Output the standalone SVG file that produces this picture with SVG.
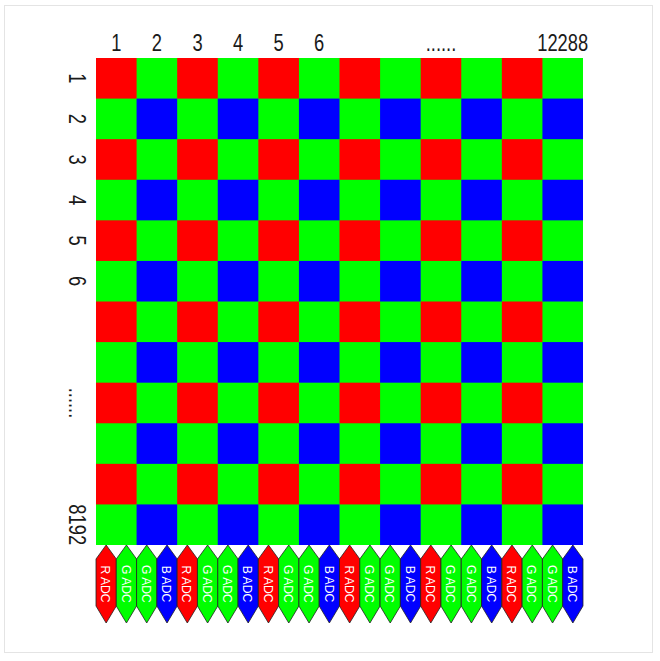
<svg xmlns="http://www.w3.org/2000/svg" xmlns:xlink="http://www.w3.org/1999/xlink" width="660" height="661" viewBox="0 0 660 661">
<style>
.r{fill:#ff0000}.g{fill:#00ff00}.b{fill:#0000ff}
.lbl{font-family:"Liberation Sans",Arial,sans-serif;font-size:23.5px;fill:#1a1a1a;text-anchor:middle}
.adc{font-family:"Liberation Sans",Arial,sans-serif;font-size:13.5px;fill:#ffffff;text-anchor:middle}
.hex{stroke:#222;stroke-width:0.8}
</style>
<defs>
<polygon id="hexshape" points="0,0 10.15,14 10.15,61 0,78 -10.15,61 -10.15,14"/>
</defs>
<rect x="0" y="0" width="660" height="661" fill="#ffffff"/>
<rect x="4.5" y="5.5" width="648" height="647" fill="none" stroke="#e4e4e4" stroke-width="1"/>
<g id="grid">
<rect class="g" x="96" y="58" width="487" height="487"/>
<g id="red-cells">
<rect class="r" x="96" y="58" width="40.6" height="40.6"/><rect class="r" x="177.17" y="58" width="40.6" height="40.6"/><rect class="r" x="258.33" y="58" width="40.6" height="40.6"/><rect class="r" x="339.5" y="58" width="40.6" height="40.6"/><rect class="r" x="420.67" y="58" width="40.6" height="40.6"/><rect class="r" x="501.83" y="58" width="40.6" height="40.6"/>
<rect class="r" x="96" y="139.17" width="40.6" height="40.6"/><rect class="r" x="177.17" y="139.17" width="40.6" height="40.6"/><rect class="r" x="258.33" y="139.17" width="40.6" height="40.6"/><rect class="r" x="339.5" y="139.17" width="40.6" height="40.6"/><rect class="r" x="420.67" y="139.17" width="40.6" height="40.6"/><rect class="r" x="501.83" y="139.17" width="40.6" height="40.6"/>
<rect class="r" x="96" y="220.33" width="40.6" height="40.6"/><rect class="r" x="177.17" y="220.33" width="40.6" height="40.6"/><rect class="r" x="258.33" y="220.33" width="40.6" height="40.6"/><rect class="r" x="339.5" y="220.33" width="40.6" height="40.6"/><rect class="r" x="420.67" y="220.33" width="40.6" height="40.6"/><rect class="r" x="501.83" y="220.33" width="40.6" height="40.6"/>
<rect class="r" x="96" y="301.5" width="40.6" height="40.6"/><rect class="r" x="177.17" y="301.5" width="40.6" height="40.6"/><rect class="r" x="258.33" y="301.5" width="40.6" height="40.6"/><rect class="r" x="339.5" y="301.5" width="40.6" height="40.6"/><rect class="r" x="420.67" y="301.5" width="40.6" height="40.6"/><rect class="r" x="501.83" y="301.5" width="40.6" height="40.6"/>
<rect class="r" x="96" y="382.67" width="40.6" height="40.6"/><rect class="r" x="177.17" y="382.67" width="40.6" height="40.6"/><rect class="r" x="258.33" y="382.67" width="40.6" height="40.6"/><rect class="r" x="339.5" y="382.67" width="40.6" height="40.6"/><rect class="r" x="420.67" y="382.67" width="40.6" height="40.6"/><rect class="r" x="501.83" y="382.67" width="40.6" height="40.6"/>
<rect class="r" x="96" y="463.83" width="40.6" height="40.6"/><rect class="r" x="177.17" y="463.83" width="40.6" height="40.6"/><rect class="r" x="258.33" y="463.83" width="40.6" height="40.6"/><rect class="r" x="339.5" y="463.83" width="40.6" height="40.6"/><rect class="r" x="420.67" y="463.83" width="40.6" height="40.6"/><rect class="r" x="501.83" y="463.83" width="40.6" height="40.6"/>
</g>
<g id="blue-cells">
<rect class="b" x="136.58" y="98.58" width="40.6" height="40.6"/><rect class="b" x="217.75" y="98.58" width="40.6" height="40.6"/><rect class="b" x="298.92" y="98.58" width="40.6" height="40.6"/><rect class="b" x="380.08" y="98.58" width="40.6" height="40.6"/><rect class="b" x="461.25" y="98.58" width="40.6" height="40.6"/><rect class="b" x="542.42" y="98.58" width="40.58" height="40.6"/>
<rect class="b" x="136.58" y="179.75" width="40.6" height="40.6"/><rect class="b" x="217.75" y="179.75" width="40.6" height="40.6"/><rect class="b" x="298.92" y="179.75" width="40.6" height="40.6"/><rect class="b" x="380.08" y="179.75" width="40.6" height="40.6"/><rect class="b" x="461.25" y="179.75" width="40.6" height="40.6"/><rect class="b" x="542.42" y="179.75" width="40.58" height="40.6"/>
<rect class="b" x="136.58" y="260.92" width="40.6" height="40.6"/><rect class="b" x="217.75" y="260.92" width="40.6" height="40.6"/><rect class="b" x="298.92" y="260.92" width="40.6" height="40.6"/><rect class="b" x="380.08" y="260.92" width="40.6" height="40.6"/><rect class="b" x="461.25" y="260.92" width="40.6" height="40.6"/><rect class="b" x="542.42" y="260.92" width="40.58" height="40.6"/>
<rect class="b" x="136.58" y="342.08" width="40.6" height="40.6"/><rect class="b" x="217.75" y="342.08" width="40.6" height="40.6"/><rect class="b" x="298.92" y="342.08" width="40.6" height="40.6"/><rect class="b" x="380.08" y="342.08" width="40.6" height="40.6"/><rect class="b" x="461.25" y="342.08" width="40.6" height="40.6"/><rect class="b" x="542.42" y="342.08" width="40.58" height="40.6"/>
<rect class="b" x="136.58" y="423.25" width="40.6" height="40.6"/><rect class="b" x="217.75" y="423.25" width="40.6" height="40.6"/><rect class="b" x="298.92" y="423.25" width="40.6" height="40.6"/><rect class="b" x="380.08" y="423.25" width="40.6" height="40.6"/><rect class="b" x="461.25" y="423.25" width="40.6" height="40.6"/><rect class="b" x="542.42" y="423.25" width="40.58" height="40.6"/>
<rect class="b" x="136.58" y="504.42" width="40.6" height="40.58"/><rect class="b" x="217.75" y="504.42" width="40.6" height="40.58"/><rect class="b" x="298.92" y="504.42" width="40.6" height="40.58"/><rect class="b" x="380.08" y="504.42" width="40.6" height="40.58"/><rect class="b" x="461.25" y="504.42" width="40.6" height="40.58"/><rect class="b" x="542.42" y="504.42" width="40.58" height="40.58"/>
</g>
</g>
<g id="column-labels">
<text class="lbl" transform="translate(116.3,51) scale(0.78,1)">1</text>
<text class="lbl" transform="translate(156.9,51) scale(0.78,1)">2</text>
<text class="lbl" transform="translate(197.5,51) scale(0.78,1)">3</text>
<text class="lbl" transform="translate(238,51) scale(0.78,1)">4</text>
<text class="lbl" transform="translate(278.6,51) scale(0.78,1)">5</text>
<text class="lbl" transform="translate(319.2,51) scale(0.78,1)">6</text>
<text class="lbl" transform="translate(441,51) scale(0.78,1)">......</text>
<text class="lbl" transform="translate(562.7,51) scale(0.78,1)">12288</text>
</g>
<g id="row-labels">
<text class="lbl" transform="translate(69,78.3) rotate(90) scale(0.78,1)">1</text>
<text class="lbl" transform="translate(69,118.9) rotate(90) scale(0.78,1)">2</text>
<text class="lbl" transform="translate(69,159.5) rotate(90) scale(0.78,1)">3</text>
<text class="lbl" transform="translate(69,200) rotate(90) scale(0.78,1)">4</text>
<text class="lbl" transform="translate(69,240.6) rotate(90) scale(0.78,1)">5</text>
<text class="lbl" transform="translate(69,281.2) rotate(90) scale(0.78,1)">6</text>
<text class="lbl" transform="translate(69,403) rotate(90) scale(0.78,1)">......</text>
<text class="lbl" transform="translate(69,524.7) rotate(90) scale(0.78,1)">8192</text>
</g>
<g id="adcs">
<g id="adc1"><use xlink:href="#hexshape" class="hex r" x="106.15" y="545"/><text class="adc" transform="translate(106.15,584) rotate(90) scale(0.9,1)" y="4.8">R ADC</text></g>
<g id="adc2"><use xlink:href="#hexshape" class="hex g" x="126.44" y="545"/><text class="adc" transform="translate(126.44,584) rotate(90) scale(0.9,1)" y="4.8">G ADC</text></g>
<g id="adc3"><use xlink:href="#hexshape" class="hex g" x="146.73" y="545"/><text class="adc" transform="translate(146.73,584) rotate(90) scale(0.9,1)" y="4.8">G ADC</text></g>
<g id="adc4"><use xlink:href="#hexshape" class="hex b" x="167.02" y="545"/><text class="adc" transform="translate(167.02,584) rotate(90) scale(0.9,1)" y="4.8">B ADC</text></g>
<g id="adc5"><use xlink:href="#hexshape" class="hex r" x="187.31" y="545"/><text class="adc" transform="translate(187.31,584) rotate(90) scale(0.9,1)" y="4.8">R ADC</text></g>
<g id="adc6"><use xlink:href="#hexshape" class="hex g" x="207.6" y="545"/><text class="adc" transform="translate(207.6,584) rotate(90) scale(0.9,1)" y="4.8">G ADC</text></g>
<g id="adc7"><use xlink:href="#hexshape" class="hex g" x="227.9" y="545"/><text class="adc" transform="translate(227.9,584) rotate(90) scale(0.9,1)" y="4.8">G ADC</text></g>
<g id="adc8"><use xlink:href="#hexshape" class="hex b" x="248.19" y="545"/><text class="adc" transform="translate(248.19,584) rotate(90) scale(0.9,1)" y="4.8">B ADC</text></g>
<g id="adc9"><use xlink:href="#hexshape" class="hex r" x="268.48" y="545"/><text class="adc" transform="translate(268.48,584) rotate(90) scale(0.9,1)" y="4.8">R ADC</text></g>
<g id="adc10"><use xlink:href="#hexshape" class="hex g" x="288.77" y="545"/><text class="adc" transform="translate(288.77,584) rotate(90) scale(0.9,1)" y="4.8">G ADC</text></g>
<g id="adc11"><use xlink:href="#hexshape" class="hex g" x="309.06" y="545"/><text class="adc" transform="translate(309.06,584) rotate(90) scale(0.9,1)" y="4.8">G ADC</text></g>
<g id="adc12"><use xlink:href="#hexshape" class="hex b" x="329.35" y="545"/><text class="adc" transform="translate(329.35,584) rotate(90) scale(0.9,1)" y="4.8">B ADC</text></g>
<g id="adc13"><use xlink:href="#hexshape" class="hex r" x="349.65" y="545"/><text class="adc" transform="translate(349.65,584) rotate(90) scale(0.9,1)" y="4.8">R ADC</text></g>
<g id="adc14"><use xlink:href="#hexshape" class="hex g" x="369.94" y="545"/><text class="adc" transform="translate(369.94,584) rotate(90) scale(0.9,1)" y="4.8">G ADC</text></g>
<g id="adc15"><use xlink:href="#hexshape" class="hex g" x="390.23" y="545"/><text class="adc" transform="translate(390.23,584) rotate(90) scale(0.9,1)" y="4.8">G ADC</text></g>
<g id="adc16"><use xlink:href="#hexshape" class="hex b" x="410.52" y="545"/><text class="adc" transform="translate(410.52,584) rotate(90) scale(0.9,1)" y="4.8">B ADC</text></g>
<g id="adc17"><use xlink:href="#hexshape" class="hex r" x="430.81" y="545"/><text class="adc" transform="translate(430.81,584) rotate(90) scale(0.9,1)" y="4.8">R ADC</text></g>
<g id="adc18"><use xlink:href="#hexshape" class="hex g" x="451.1" y="545"/><text class="adc" transform="translate(451.1,584) rotate(90) scale(0.9,1)" y="4.8">G ADC</text></g>
<g id="adc19"><use xlink:href="#hexshape" class="hex g" x="471.4" y="545"/><text class="adc" transform="translate(471.4,584) rotate(90) scale(0.9,1)" y="4.8">G ADC</text></g>
<g id="adc20"><use xlink:href="#hexshape" class="hex b" x="491.69" y="545"/><text class="adc" transform="translate(491.69,584) rotate(90) scale(0.9,1)" y="4.8">B ADC</text></g>
<g id="adc21"><use xlink:href="#hexshape" class="hex r" x="511.98" y="545"/><text class="adc" transform="translate(511.98,584) rotate(90) scale(0.9,1)" y="4.8">R ADC</text></g>
<g id="adc22"><use xlink:href="#hexshape" class="hex g" x="532.27" y="545"/><text class="adc" transform="translate(532.27,584) rotate(90) scale(0.9,1)" y="4.8">G ADC</text></g>
<g id="adc23"><use xlink:href="#hexshape" class="hex g" x="552.56" y="545"/><text class="adc" transform="translate(552.56,584) rotate(90) scale(0.9,1)" y="4.8">G ADC</text></g>
<g id="adc24"><use xlink:href="#hexshape" class="hex b" x="572.85" y="545"/><text class="adc" transform="translate(572.85,584) rotate(90) scale(0.9,1)" y="4.8">B ADC</text></g>
</g>
<g id="connectors"/>
</svg>
